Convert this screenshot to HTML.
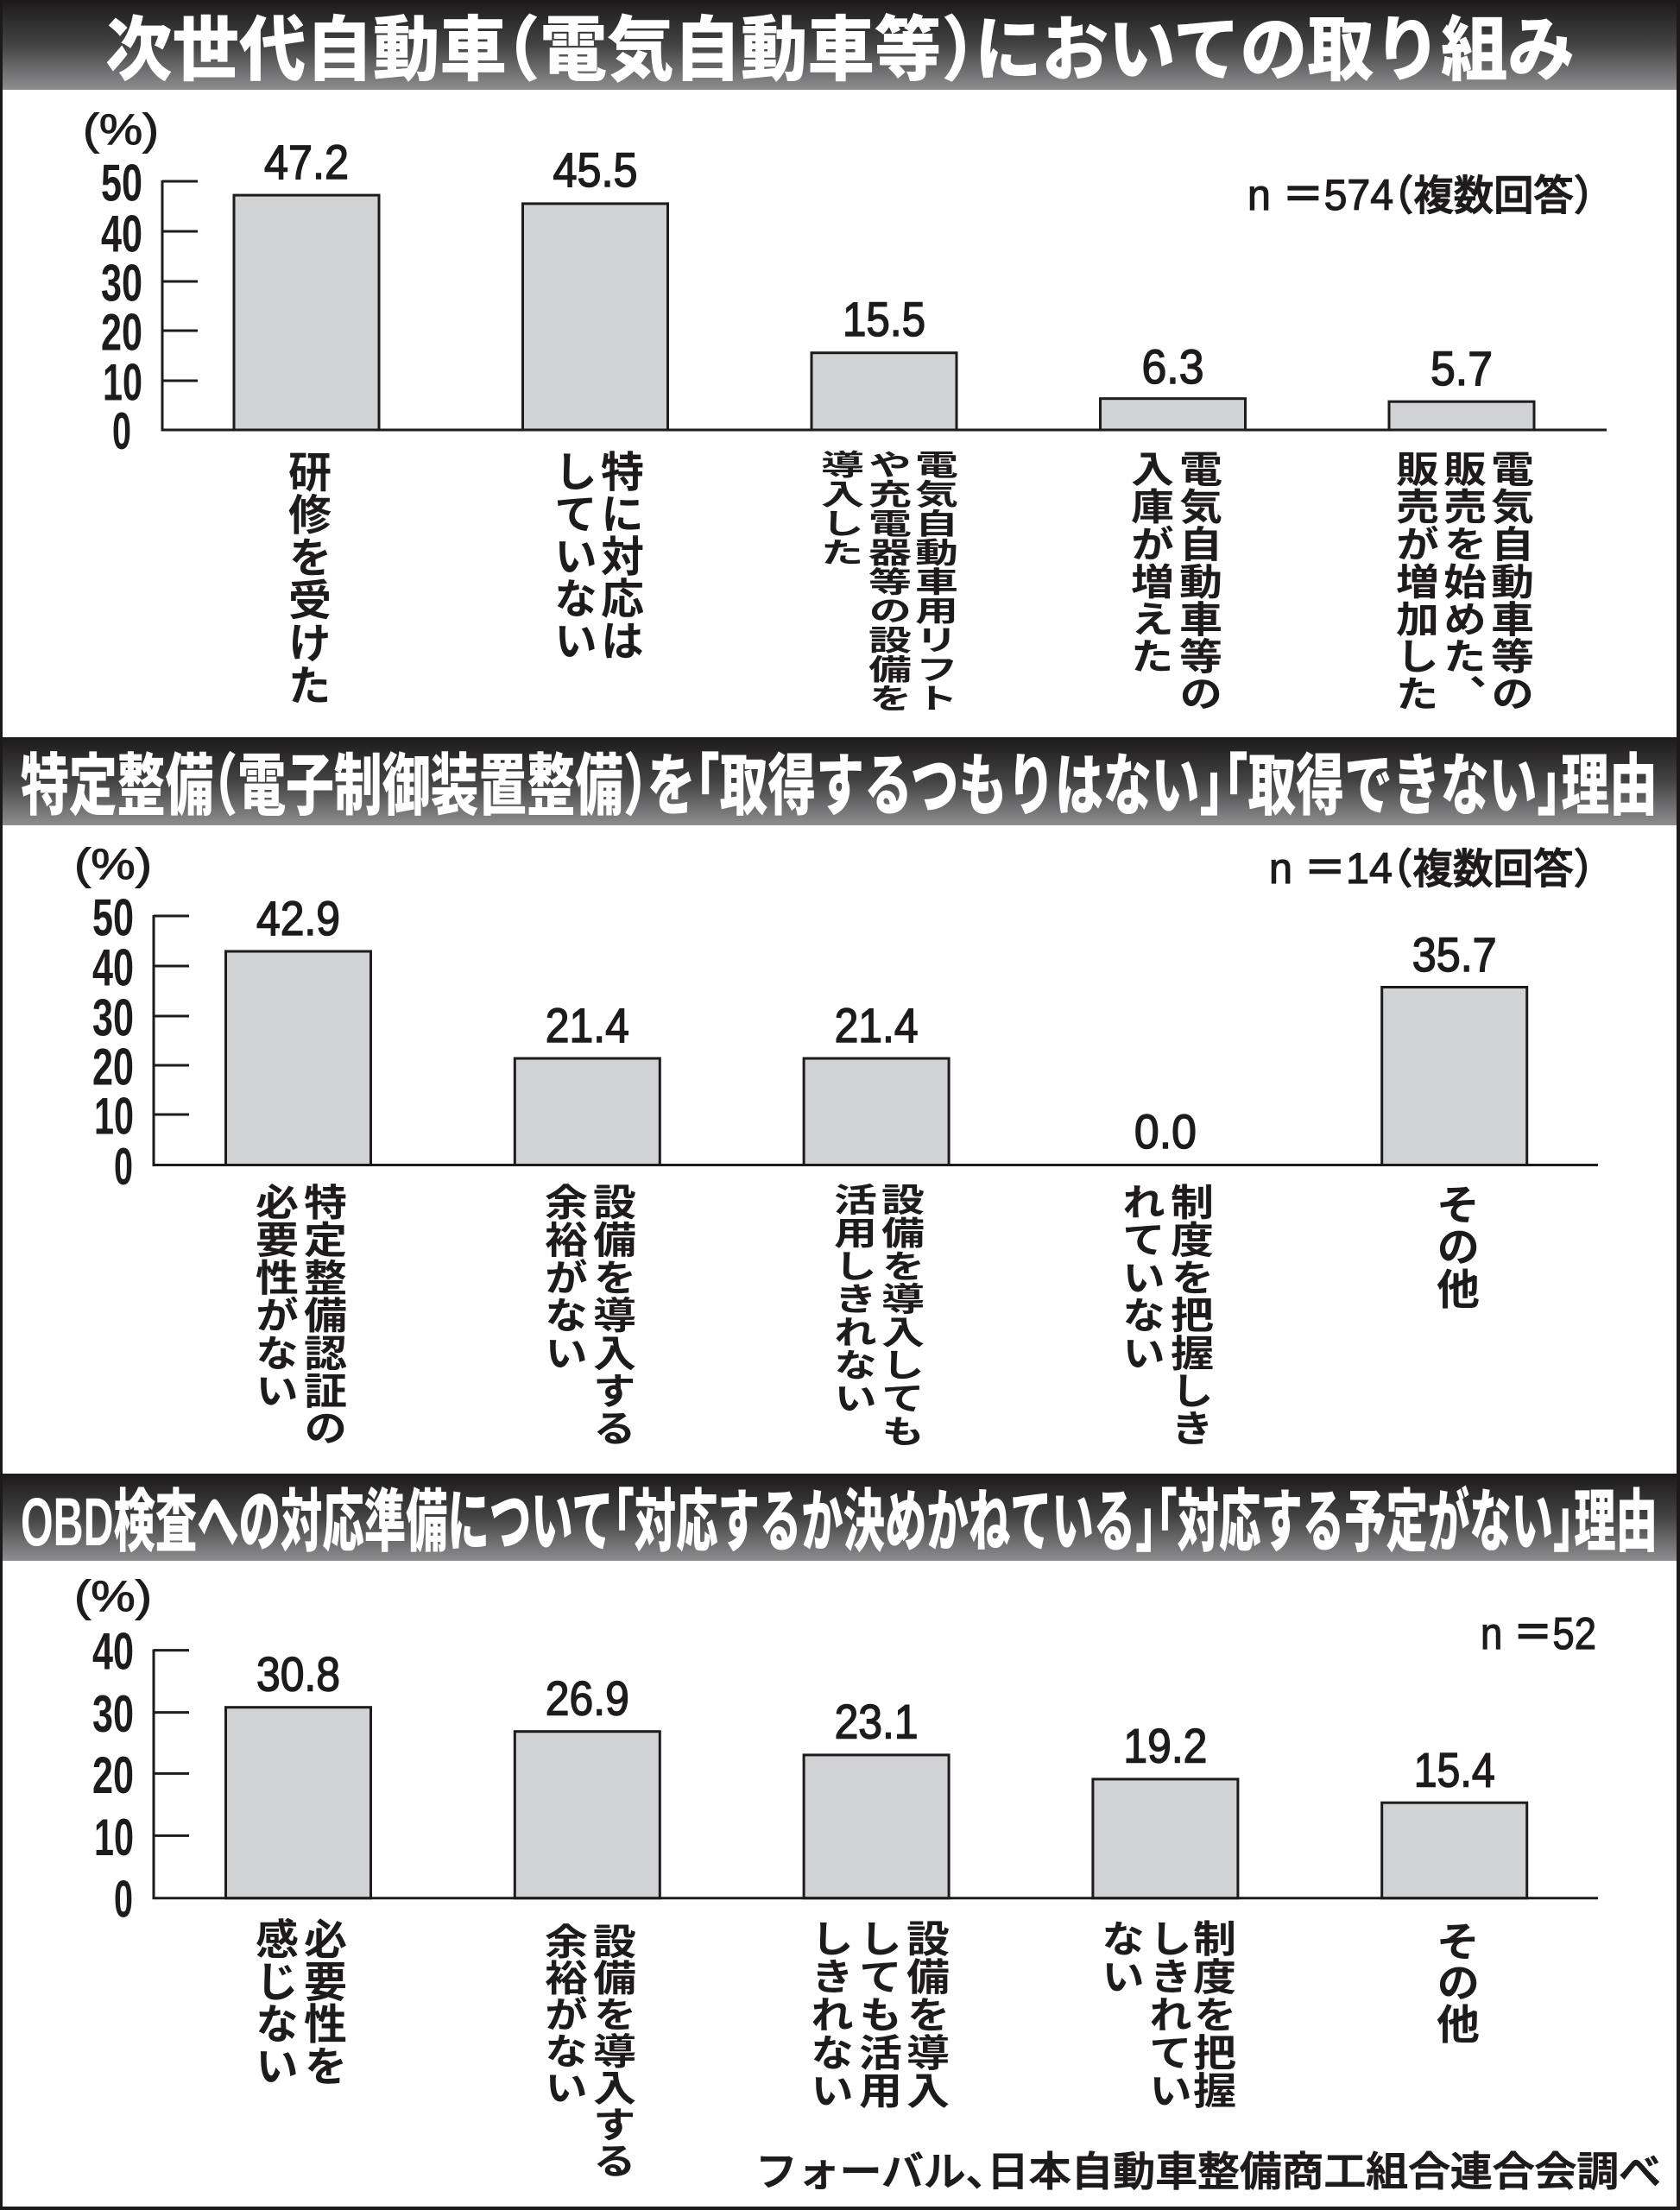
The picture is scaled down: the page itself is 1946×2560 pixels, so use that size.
<!DOCTYPE html>
<html lang="ja">
<head>
<meta charset="utf-8">
<style>
html,body{margin:0;padding:0;background:#fff;}
#wrap{position:relative;width:1946px;height:2560px;overflow:hidden;background:#fff;}
svg{position:absolute;left:0;top:0;}
.v{position:absolute;writing-mode:vertical-rl;text-orientation:mixed;font-family:"Liberation Sans","Noto Sans CJK JP",sans-serif;font-weight:700;font-size:50px;line-height:50px;width:50px;white-space:nowrap;color:#1e1b1c;transform-origin:0 0;}
.h{font-feature-settings:"halt" 1;}
</style>
</head>
<body>
<div id="wrap">
<svg width="1946" height="2560" viewBox="0 0 1946 2560" xmlns="http://www.w3.org/2000/svg">
<defs>
<linearGradient id="g" x1="0" y1="0" x2="0" y2="1">
<stop offset="0" stop-color="#1b191a"/>
<stop offset="0.5" stop-color="#444344"/>
<stop offset="1" stop-color="#8e8e90"/>
</linearGradient>
</defs>
<rect x="0" y="0" width="1946" height="2560" fill="#fff"/>
<!-- title bars -->
<rect x="0" y="0" width="1946" height="104" fill="url(#g)"/>
<rect x="0" y="854" width="1946" height="102" fill="url(#g)"/>
<rect x="0" y="1707" width="1946" height="101" fill="url(#g)"/>
<!-- frame -->
<rect x="0" y="0" width="1946" height="3" fill="#1b191a"/>
<rect x="0" y="0" width="3" height="2560" fill="#1b191a"/>
<rect x="1942" y="0" width="4" height="2560" fill="#1b191a"/>
<rect x="0" y="2556" width="1946" height="4" fill="#1b191a"/>

<g font-family="'Liberation Sans','Noto Sans CJK JP',sans-serif" font-weight="900" fill="#fff" class="h">
<text class="h" x="122" y="86" font-size="82" textLength="1702" lengthAdjust="spacingAndGlyphs">次世代自動車（電気自動車等）においての取り組み</text>
<text class="h" x="24" y="937" font-size="78" textLength="1896" lengthAdjust="spacingAndGlyphs">特定整備（電子制御装置整備）を「取得するつもりはない」「取得できない」理由</text>
<text class="h" x="24" y="1790" font-size="79" textLength="1896" lengthAdjust="spacingAndGlyphs">OBD検査への対応準備について「対応するか決めかねている」「対応する予定がない」理由</text>
</g>

<!-- ===== Panel 1 ===== -->
<g fill="#d1d2d4" stroke="#1e1b1c" stroke-width="3">
<rect x="271" y="226.1" width="168" height="271.9"/>
<rect x="605.5" y="235.9" width="168" height="262.1"/>
<rect x="940" y="408.7" width="168" height="89.3"/>
<rect x="1274.5" y="461.7" width="168" height="36.3"/>
<rect x="1609" y="465.2" width="168" height="32.8"/>
</g>
<g stroke="#1e1b1c" stroke-width="3" fill="none">
<line x1="188" y1="209" x2="188" y2="499"/>
<line x1="188" y1="210" x2="229" y2="210"/>
<line x1="188" y1="268" x2="229" y2="268"/>
<line x1="188" y1="326" x2="229" y2="326"/>
<line x1="188" y1="383" x2="229" y2="383"/>
<line x1="188" y1="441" x2="229" y2="441"/>
<line x1="186.5" y1="498" x2="1861" y2="498"/>
</g>

<!-- ===== Panel 2 ===== -->
<g fill="#d1d2d4" stroke="#1e1b1c" stroke-width="3">
<rect x="261.5" y="1102" width="168" height="247.5"/>
<rect x="596.3" y="1226" width="168" height="123.5"/>
<rect x="931.1" y="1226" width="168" height="123.5"/>
<rect x="1600.7" y="1143.5" width="168" height="206"/>
</g>
<g stroke="#1e1b1c" stroke-width="3" fill="none">
<line x1="178" y1="1060" x2="178" y2="1350.5"/>
<line x1="178" y1="1061" x2="219" y2="1061"/>
<line x1="178" y1="1119" x2="219" y2="1119"/>
<line x1="178" y1="1177" x2="219" y2="1177"/>
<line x1="178" y1="1234" x2="219" y2="1234"/>
<line x1="178" y1="1291" x2="219" y2="1291"/>
<line x1="176.5" y1="1349.5" x2="1851" y2="1349.5"/>
</g>

<!-- ===== Panel 3 ===== -->
<g fill="#d1d2d4" stroke="#1e1b1c" stroke-width="3">
<rect x="261.5" y="1977.7" width="168" height="221.1"/>
<rect x="596.3" y="2005.7" width="168" height="193.1"/>
<rect x="931.1" y="2032.9" width="168" height="165.9"/>
<rect x="1265.9" y="2060.9" width="168" height="137.9"/>
<rect x="1600.7" y="2088.2" width="168" height="110.6"/>
</g>
<g stroke="#1e1b1c" stroke-width="3" fill="none">
<line x1="178" y1="1910.5" x2="178" y2="2200"/>
<line x1="178" y1="1911.6" x2="219" y2="1911.6"/>
<line x1="178" y1="1983.6" x2="219" y2="1983.6"/>
<line x1="178" y1="2054.4" x2="219" y2="2054.4"/>
<line x1="178" y1="2126.4" x2="219" y2="2126.4"/>
<line x1="176.5" y1="2198.8" x2="1851" y2="2198.8"/>
</g>

<!-- tick labels -->
<g font-family="'Liberation Sans',sans-serif" font-weight="700" font-size="60" fill="#1e1b1c" text-anchor="end">
<text x="165" y="232.5" textLength="48" lengthAdjust="spacingAndGlyphs">50</text>
<text x="165" y="291.5" textLength="48" lengthAdjust="spacingAndGlyphs">40</text>
<text x="165" y="348.5" textLength="48" lengthAdjust="spacingAndGlyphs">30</text>
<text x="165" y="405.5" textLength="48" lengthAdjust="spacingAndGlyphs">20</text>
<text x="165" y="463.5" textLength="46" lengthAdjust="spacingAndGlyphs">10</text>
<text x="152" y="520" textLength="22" lengthAdjust="spacingAndGlyphs">0</text>

<text x="155" y="1083.5" textLength="48" lengthAdjust="spacingAndGlyphs">50</text>
<text x="155" y="1141.5" textLength="48" lengthAdjust="spacingAndGlyphs">40</text>
<text x="155" y="1199.5" textLength="48" lengthAdjust="spacingAndGlyphs">30</text>
<text x="155" y="1256.5" textLength="48" lengthAdjust="spacingAndGlyphs">20</text>
<text x="155" y="1313.5" textLength="46" lengthAdjust="spacingAndGlyphs">10</text>
<text x="154" y="1372" textLength="22" lengthAdjust="spacingAndGlyphs">0</text>

<text x="155" y="1933.5" textLength="48" lengthAdjust="spacingAndGlyphs">40</text>
<text x="155" y="2006" textLength="48" lengthAdjust="spacingAndGlyphs">30</text>
<text x="155" y="2077" textLength="48" lengthAdjust="spacingAndGlyphs">20</text>
<text x="155" y="2149" textLength="46" lengthAdjust="spacingAndGlyphs">10</text>
<text x="154" y="2220.5" textLength="22" lengthAdjust="spacingAndGlyphs">0</text>
</g>

<!-- value labels -->
<g font-family="'Liberation Sans',sans-serif" font-weight="400" font-size="56" fill="#1e1b1c" stroke="#1e1b1c" stroke-width="1.5" text-anchor="middle">
<text x="355" y="207" textLength="98" lengthAdjust="spacingAndGlyphs">47.2</text>
<text x="689.5" y="216" textLength="98" lengthAdjust="spacingAndGlyphs">45.5</text>
<text x="1024" y="389" textLength="96" lengthAdjust="spacingAndGlyphs">15.5</text>
<text x="1358.5" y="444" textLength="72" lengthAdjust="spacingAndGlyphs">6.3</text>
<text x="1693" y="446" textLength="72" lengthAdjust="spacingAndGlyphs">5.7</text>

<text x="345.5" y="1083" textLength="97" lengthAdjust="spacingAndGlyphs">42.9</text>
<text x="680.3" y="1207" textLength="97" lengthAdjust="spacingAndGlyphs">21.4</text>
<text x="1015.1" y="1207" textLength="97" lengthAdjust="spacingAndGlyphs">21.4</text>
<text x="1349.9" y="1330" textLength="72" lengthAdjust="spacingAndGlyphs">0.0</text>
<text x="1684.7" y="1125" textLength="98" lengthAdjust="spacingAndGlyphs">35.7</text>

<text x="345.5" y="1958.5" textLength="97" lengthAdjust="spacingAndGlyphs">30.8</text>
<text x="680.3" y="1986.5" textLength="97" lengthAdjust="spacingAndGlyphs">26.9</text>
<text x="1015.1" y="2013.5" textLength="97" lengthAdjust="spacingAndGlyphs">23.1</text>
<text x="1349.9" y="2041.5" textLength="97" lengthAdjust="spacingAndGlyphs">19.2</text>
<text x="1684.7" y="2069.5" textLength="94" lengthAdjust="spacingAndGlyphs">15.4</text>
</g>

<!-- (%) -->
<g font-family="'Liberation Sans',sans-serif" font-weight="400" font-size="50" fill="#1e1b1c" stroke="#1e1b1c" stroke-width="1">
<text x="96" y="167" textLength="88" lengthAdjust="spacingAndGlyphs">(%)</text>
<text x="86" y="1018" textLength="90" lengthAdjust="spacingAndGlyphs">(%)</text>
<text x="86" y="1866" textLength="90" lengthAdjust="spacingAndGlyphs">(%)</text>
</g>

<!-- n= -->
<g font-family="'Liberation Sans','Noto Sans CJK JP',sans-serif" font-weight="500" fill="#1e1b1c" stroke="#1e1b1c" stroke-width="1.2">
<text class="h" x="1445" y="243" textLength="401" lengthAdjust="spacingAndGlyphs"><tspan font-size="50">n ＝574</tspan><tspan font-size="48">（複数回答）</tspan></text>
<text class="h" x="1470" y="1023" textLength="376" lengthAdjust="spacingAndGlyphs"><tspan font-size="50">n ＝14</tspan><tspan font-size="48">（複数回答）</tspan></text>
<text class="h" x="1715" y="1910" font-size="52" textLength="134" lengthAdjust="spacingAndGlyphs">n ＝52</text>
</g>

<!-- footer -->
<text class="h" x="875" y="2532" font-family="'Liberation Sans','Noto Sans CJK JP',sans-serif" font-weight="500" font-size="47" fill="#1e1b1c" stroke="#1e1b1c" stroke-width="1.1" textLength="1049" lengthAdjust="spacingAndGlyphs">フォーバル、日本自動車整備商工組合連合会調べ</text>
</svg>

<!-- ===== vertical category labels: Panel 1 ===== -->
<div class="v" style="left:330px;top:521px;transform:scaleY(0.99)">研修を受けた</div>

<div class="v" style="left:692px;top:521px;transform:scaleY(0.98)">特に対応は</div>
<div class="v" style="left:638px;top:521px;transform:scaleY(0.98)">していない</div>

<div class="v" style="left:1056px;top:521px;transform:scaleY(0.676)">電気自動車用リフト</div>
<div class="v" style="left:1002px;top:521px;transform:scaleY(0.676)">や充電器等の設備を</div>
<div class="v" style="left:947px;top:521px;transform:scaleY(0.676)">導入した</div>

<div class="v" style="left:1362px;top:521px;transform:scaleY(0.868)">電気自動車等の</div>
<div class="v" style="left:1306px;top:521px;transform:scaleY(0.868)">入庫が増えた</div>

<div class="v" style="left:1723px;top:521px;transform:scaleY(0.868)">電気自動車等の</div>
<div class="v" style="left:1668px;top:521px;transform:scaleY(0.868)">販売を始めた、</div>
<div class="v" style="left:1613px;top:521px;transform:scaleY(0.868)">販売が増加した</div>

<!-- ===== Panel 2 ===== -->
<div class="v" style="left:348px;top:1370px;transform:scaleY(0.874)">特定整備認証の</div>
<div class="v" style="left:292px;top:1370px;transform:scaleY(0.874)">必要性がない</div>

<div class="v" style="left:683px;top:1370px;transform:scaleY(0.874)">設備を導入する</div>
<div class="v" style="left:627px;top:1370px;transform:scaleY(0.874)">余裕がない</div>

<div class="v" style="left:1017px;top:1370px;transform:scaleY(0.766)">設備を導入しても</div>
<div class="v" style="left:962px;top:1370px;transform:scaleY(0.766)">活用しきれない</div>

<div class="v" style="left:1352px;top:1370px;transform:scaleY(0.874)">制度を把握しき</div>
<div class="v" style="left:1296px;top:1370px;transform:scaleY(0.874)">れていない</div>

<div class="v" style="left:1660px;top:1370px;transform:scaleY(0.98)">その他</div>

<!-- ===== Panel 3 ===== -->
<div class="v" style="left:348px;top:2221px;transform:scaleY(0.98)">必要性を</div>
<div class="v" style="left:292px;top:2221px;transform:scaleY(0.98)">感じない</div>

<div class="v" style="left:683px;top:2227px;transform:scaleY(0.848)">設備を導入する</div>
<div class="v" style="left:627px;top:2227px;transform:scaleY(0.848)">余裕がない</div>

<div class="v" style="left:1046px;top:2223px;transform:scaleY(0.88)">設備を導入</div>
<div class="v" style="left:991px;top:2223px;transform:scaleY(0.88)">しても活用</div>
<div class="v" style="left:935px;top:2223px;transform:scaleY(0.88)">しきれない</div>

<div class="v" style="left:1378px;top:2223px;transform:scaleY(0.88)">制度を把握</div>
<div class="v" style="left:1327px;top:2223px;transform:scaleY(0.88)">しきれてい</div>
<div class="v" style="left:1272px;top:2223px;transform:scaleY(0.88)">ない</div>

<div class="v" style="left:1660px;top:2224px;transform:scaleY(0.96)">その他</div>
</div>
</body>
</html>
